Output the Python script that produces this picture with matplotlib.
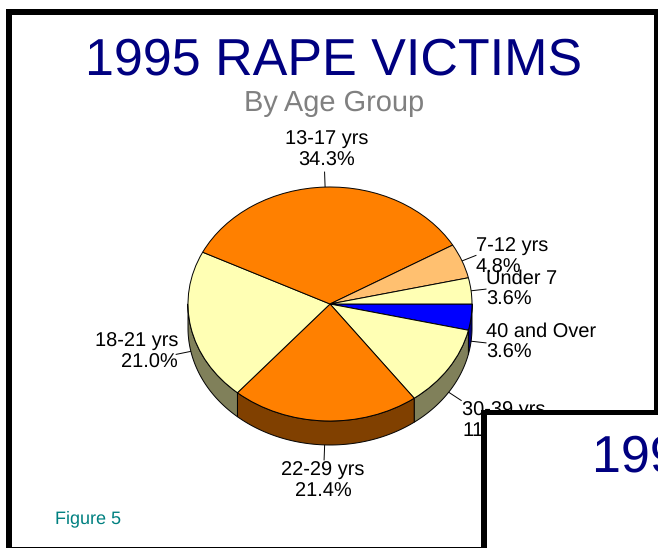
import numpy as np
import matplotlib
matplotlib.use("Agg")
import matplotlib.pyplot as plt
from matplotlib.patches import Rectangle

plt.rcParams['font.family'] = ['Liberation Sans', 'DejaVu Sans']
plt.rcParams['text.hinting'] = 'no_hinting'
plt.rcParams['text.hinting_factor'] = 1

# Data (clockwise from 3 o'clock)
categories = ['40 and Over', '30-39 yrs', '22-29 yrs', '18-21 yrs', '13-17 yrs', '7-12 yrs', 'Under 7']
values = [3.6, 11.3, 21.4, 21.0, 34.3, 4.8, 3.6]
pct_labels = ['3.6%', '11.3%', '21.4%', '21.0%', '34.3%', '4.8%', '3.6%']
top_colors = ['#0000FF', '#FFFFB4', '#FF8000', '#FFFFB4', '#FF8000', '#FFC070', '#FFFFB4']
side_colors = ['#000080', '#80805A', '#804000', '#80805A', '#804000', '#806038', '#80805A']

W, H = 658, 548
CX, CY, RX, RY, DEPTH = 330, 304, 142, 117, 24

# label anchor: x, y of first line, y of second line, horizontal alignment
label_x = [486, 462, 323, 178, 327, 476, 486]
label_y1 = [332, 411, 471, 342, 140, 247, 279]
label_y2 = [353, 432, 492, 363, 161, 268, 300]
label_ha = ['left', 'left', 'center', 'right', 'center', 'left', 'left']

fig = plt.figure(figsize=(W / 100, H / 100), dpi=100)
fig.patch.set_facecolor('white')


def pixel_axes(z):
    a = fig.add_axes([0, 0, 1, 1], zorder=z)
    a.set_xlim(0, W)
    a.set_ylim(H, 0)
    a.axis('off')
    a.patch.set_alpha(0)
    return a


bg = pixel_axes(0)
# first slide frame
bg.add_patch(Rectangle((6, 9), W, H, fc='black', ec='none'))
bg.add_patch(Rectangle((12, 15), 642, H - 15 - 1, fc='white', ec='none'))

bg.text(334, 61, '1995 RAPE VICTIMS', color='#000080', fontsize=37.5, ha='center', va='center')
bg.text(334, 103, 'By Age Group', color='#808080', fontsize=21.2, ha='center', va='center')
bg.text(55, 519, 'Figure 5', color='#008080', fontsize=13.3, ha='left', va='center')

fracs = np.array(values) / sum(values)
edges = np.concatenate([[0], np.cumsum(fracs)]) * 2 * np.pi
mids = (edges[:-1] + edges[1:]) / 2

for i, cat in enumerate(categories):
    m = mids[i]
    c, s = np.cos(m), np.sin(m)
    x0, y0 = CX + RX * c, CY + RY * s + (DEPTH if s > 0 else 0)
    bg.plot([x0, x0 + 15 * c], [y0, y0 + 15 * s], color='black', lw=0.7, zorder=2)
    bg.text(label_x[i], label_y1[i], cat, fontsize=14.5, ha=label_ha[i], va='center', color='black', zorder=3)
    bg.text(label_x[i], label_y2[i], pct_labels[i], fontsize=14.5, ha=label_ha[i], va='center', color='black', zorder=3)

# pie: unit circle stretched into an ellipse by the axes box
pie_ax = fig.add_axes([(CX - RX) / W, 1 - (CY + RY) / H, 2 * RX / W, 2 * RY / H], zorder=1)
d = DEPTH / RY
for i in range(len(values)):
    a0, a1 = edges[i], min(edges[i + 1], np.pi)
    if a0 >= np.pi:
        continue
    t = np.linspace(a0, a1, 60)
    xs = np.cos(t)
    ys = -np.sin(t)
    pie_ax.fill(np.r_[xs, xs[::-1]], np.r_[ys, ys[::-1] - d], fc=side_colors[i], ec='black',
                lw=0.7, clip_on=False, joinstyle='round')
pie_ax.pie(values, colors=top_colors, startangle=0, counterclock=False, radius=1,
           wedgeprops=dict(edgecolor='black', linewidth=0.7, clip_on=False))
pie_ax.set_aspect('auto')
pie_ax.set_xlim(-1, 1)
pie_ax.set_ylim(-1, 1)
pie_ax.axis('off')
pie_ax.patch.set_alpha(0)

# overlapping next slide in the corner
top = pixel_axes(2)
top.add_patch(Rectangle((481, 410), W, H, fc='black', ec='none'))
top.add_patch(Rectangle((487, 415), W, H, fc='white', ec='none'))
top.text(592, 458, '1995 RAPE VICTIMS', color='#000080', fontsize=37.5, ha='left', va='center', clip_on=False)

fig.savefig('out.png', dpi=100)
